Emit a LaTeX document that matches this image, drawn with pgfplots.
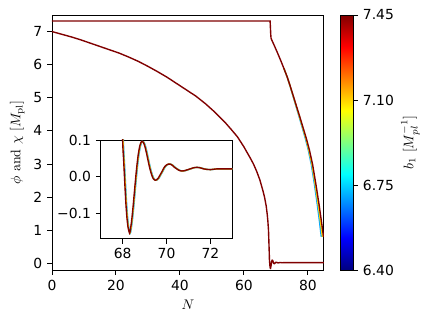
\documentclass[border=0pt,10pt]{standalone}
\usepackage[no-math]{fontspec}
\setmainfont{DejaVu Sans}
\usepackage{pgfplots}
\pgfplotsset{compat=1.18}
\usepackage{pgfplotstable}

\definecolor{jred}{rgb}{0.5,0,0}
\definecolor{jyel}{rgb}{1,0.85,0}
\definecolor{jcyan}{rgb}{0,0.65,1}

\pgfplotstableread{
N y
0 7.00
3 6.92
6 6.84
9 6.75
12 6.65
15 6.55
18 6.45
21 6.35
24 6.23
27 6.10
30 5.95
33 5.79
36 5.62
39 5.43
42 5.24
45 5.05
48 4.82
51 4.56
54 4.27
56 4.05
58 3.82
60 3.52
62 3.18
63 3.00
64 2.78
65 2.52
66 2.18
66.5 1.98
67.0 1.72
67.3 1.48
67.5 1.28
67.7 1.00
67.8 0.72
67.9 0.42
67.95 0.26
68.00 0.100
68.05 0.040
68.10 -0.020
68.15 -0.075
68.20 -0.115
68.25 -0.140
68.30 -0.152
68.33 -0.153
68.406 -0.123
68.483 -0.078
68.559 -0.027
68.635 0.021
68.711 0.060
68.788 0.085
68.864 0.096
68.94 0.094
69.016 0.082
69.0925 0.063
69.169 0.041
69.245 0.021
69.321 0.005
69.3975 -0.006
69.474 -0.010
69.55 -0.009
69.63 -0.004
69.7025 0.004
69.78 0.012
69.855 0.021
69.93 0.028
70.0075 0.032
70.08 0.034
70.16 0.034
70.24 0.032
70.3125 0.028
70.39 0.024
70.465 0.021
70.54 0.018
70.6175 0.016
70.70 0.0152
70.77 0.0156
70.85 0.0165
70.9225 0.018
71.0 0.0195
71.075 0.021
71.15 0.0225
71.2275 0.024
71.30 0.0248
71.38 0.025
71.45 0.0248
71.53 0.024
71.61 0.0225
71.69 0.021
71.84 0.0195
72.0 0.019
72.15 0.020
72.3 0.021
72.6 0.021
73.0 0.021
76.0 0.021
80.0 0.021
85.0 0.021
}\chidata

\pgfplotstableread{
N y
0 7.32
68.2 7.32
68.3 7.12
68.4 6.92
68.5 6.80
68.7 6.75
69.5 6.58
70.5 6.36
71.5 6.13
72.5 5.89
73.5 5.64
74.5 5.35
75.5 5.04
76.5 4.73
77.5 4.42
78.5 4.10
79.5 3.78
80.5 3.42
81.5 2.98
82.5 2.40
83.5 1.78
84.2 1.30
84.9 0.80
}\phired

\pgfplotstableread{
N y
72.5 5.89
73.5 5.64
74.47 5.35
75.45 5.04
76.42 4.73
77.4 4.42
78.37 4.10
79.35 3.78
80.32 3.42
81.3 2.98
82.27 2.40
83.22 1.78
83.9 1.30
84.55 0.80
}\phiyel

\pgfplotstableread{
N y
72.5 5.89
73.5 5.64
74.45 5.35
75.4 5.04
76.35 4.73
77.3 4.42
78.25 4.10
79.2 3.78
80.15 3.42
81.1 2.98
82.05 2.40
82.95 1.78
83.6 1.30
84.2 0.80
}\phicyan

\begin{document}
\begin{tikzpicture}
\useasboundingbox (-37.4pt,-38.9pt) rectangle (270.8pt,194.4pt);
\begin{axis}[
  name=main, at={(0,0)}, anchor=south west,
  scale only axis, width=195.8pt, height=183.6pt,
  xmin=0, xmax=85, ymin=-0.2, ymax=7.5,
  xtick={0,20,40,60,80}, ytick={0,1,2,3,4,5,6,7},
  tick pos=left, tick align=outside, major tick length=3.5pt,
  axis line style={line width=0.6pt}, every tick/.style={black, line width=0.6pt},
  /pgf/number format/assume math mode=true,
  xlabel={$N$},
  ylabel={$\phi\ \mathrm{and}\ \chi\ [M_{\mathrm{pl}}]$},
  ylabel style={at={(axis description cs:-0.083,0.5)}, anchor=south},
  colormap/jet, point meta min=6.40, point meta max=7.45,
  colorbar,
  colorbar style={
    at={(parent axis.north east)}, anchor=north west, xshift=3.5pt,
    scale only axis, width=9.1pt, height=183.6pt,
    ytick={6.40,6.75,7.10,7.45}, yticklabels={6.40,6.75,7.10,7.45},
    yticklabel pos=right, ytick pos=right, tick align=outside, major tick length=3.5pt,
    axis line style={line width=0.6pt}, every tick/.style={black, line width=0.6pt},
    ylabel={$b_1\ [M_{pl}^{-1}]$},
    ylabel style={at={(axis description cs:4.41,0.5)}, anchor=north},
  },
]
\addplot[jred, line width=1pt] table {\chidata};
\addplot[jcyan, line width=1pt] table {\phicyan};
\addplot[jyel, line width=1pt] table {\phiyel};
\addplot[jred, line width=1pt] table {\phired};
\end{axis}
\begin{axis}[
  at={(35.1pt,22.5pt)}, anchor=south west,
  scale only axis, width=94.8pt, height=71.1pt,
  xmin=67, xmax=73, ymin=-0.17, ymax=0.1,
  xtick={68,70,72}, ytick={-0.1,0,0.1}, yticklabels={−0.1,0.0,0.1},
  tick pos=left, tick align=outside, major tick length=3.5pt,
  axis line style={line width=0.6pt}, every tick/.style={black, line width=0.6pt},
  /pgf/number format/assume math mode=true,
  axis background/.style={fill=white},
]
\addplot[jcyan, line width=1pt, smooth, xshift=0.5pt] table {\chidata};
\addplot[jyel, line width=1pt, smooth, xshift=0.25pt] table {\chidata};
\addplot[jred, line width=1pt, smooth] table {\chidata};
\end{axis}
\end{tikzpicture}
\end{document}
